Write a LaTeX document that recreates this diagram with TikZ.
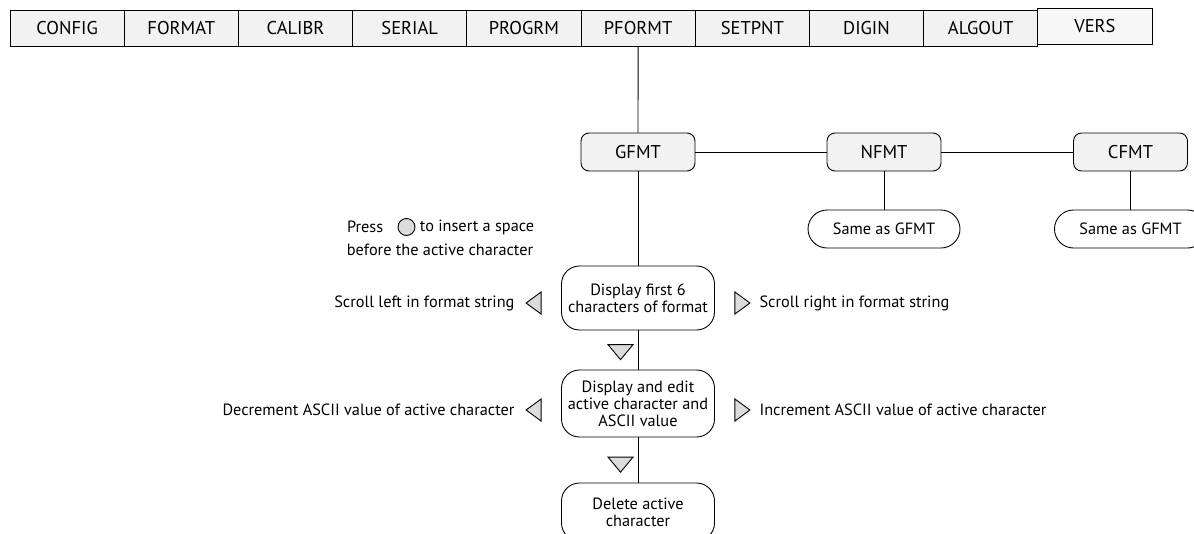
\documentclass[tikz,border=0pt]{standalone}
\usepackage{fontspec}
\setmainfont{PT Sans}
\usetikzlibrary{positioning, shapes.geometric}
\definecolor{boxgray}{HTML}{F2F2F2}
\definecolor{trigray}{HTML}{DCDCDC}
\newcommand{\menuwidth}{114.2pt}
\newcommand{\bodyfont}{\fontsize{16.3}{17}\selectfont}
\tikzset{
    menu/.style={draw, fill=boxgray, minimum width=\menuwidth, minimum height=36pt,
        inner sep=0pt, outer sep=0pt, font=\fontsize{18.5}{20}\selectfont},
    sub/.style={draw, fill=boxgray, rounded corners=8pt, minimum width=114pt,
        minimum height=38pt, font=\fontsize{18.5}{20}\selectfont},
    oval/.style={draw, fill=white, rounded corners=19pt, minimum width=152pt,
        minimum height=38pt, font=\bodyfont},
    stepbox/.style={draw, fill=white, rounded corners=18pt, minimum width=153pt,
        inner sep=0pt, align=center, font=\bodyfont},
    ltri/.style={isosceles triangle, isosceles triangle stretches, shape border rotate=180,
        draw, fill=trigray, minimum width=22pt, minimum height=15pt, inner sep=0pt},
    rtri/.style={ltri, shape border rotate=0},
    dtri/.style={isosceles triangle, isosceles triangle stretches, shape border rotate=270,
        draw, fill=trigray, minimum width=25pt, minimum height=15pt, inner sep=0pt},
    btn/.style={circle, draw, fill=trigray, minimum size=17pt, inner sep=0pt},
    lbl/.style={inner sep=0pt, font=\bodyfont}
}

\begin{document}
\begin{tikzpicture}[x=1pt, y=-1pt, line width=0.9pt]
    \useasboundingbox (0,0) rectangle (1194,533);
    \node[menu] (config) at (67.1,28) {CONFIG};
    \node[menu, right=0pt of config] (format) {FORMAT};
    \node[menu, right=0pt of format] (calibr) {CALIBR};
    \node[menu, right=0pt of calibr] (serial) {SERIAL};
    \node[menu, right=0pt of serial] (progrm) {PROGRM};
    \node[menu, right=0pt of progrm] (pformt) {PFORMT};
    \node[menu, right=0pt of pformt] (setpnt) {SETPNT};
    \node[menu, right=0pt of setpnt] (digin) {DIGIN};
    \node[menu, right=0pt of digin] (algout) {ALGOUT};
    \node[menu, right=0pt of algout, yshift=1.5pt, fill=boxgray!60] (vers) {VERS};

    \node[sub] (gfmt) at (638,152) {GFMT};
    \node[sub] (nfmt) at (884,152) {NFMT};
    \node[sub] (cfmt) at (1130.5,152) {CFMT};
    \node[oval] (nsame) at (884,229) {Same as GFMT};
    \node[oval] (csame) at (1130.5,229) {Same as GFMT};

    \node[btn] (btn) at (406.5,227) {};
    \node[lbl, left=14pt of btn] (press) {Press};
    \node[lbl, right=4pt of btn] (insert) {to insert a space};
    \node[lbl] (before) at (440,250) {before the active character};

    \node[stepbox, minimum height=64pt] (dispfirst) at (638,298) {Display first 6\\characters of format};
    \node[stepbox, minimum height=67pt] (dispedit) at (638,403.5) {Display and edit\\active character and\\ASCII value};
    \node[stepbox, minimum height=58pt] (delchar) at (638,512) {Delete active\\character};

    \node[ltri] (lscroll) at (535.5,303) {};
    \node[rtri] (rscroll) at (740.5,303) {};
    \node[ltri] (ldec) at (535.5,410) {};
    \node[rtri] (rinc) at (740.5,410) {};
    \node[dtri] (dnext) at (620.5,350.5) {};
    \node[dtri] (ddel) at (620.5,463) {};
    \node[lbl, left=10pt of lscroll] (scrollleft) {Scroll left in format string};
    \node[lbl, right=8pt of rscroll] (scrollright) {Scroll right in format string};
    \node[lbl, left=10pt of ldec] (decr) {Decrement ASCII value of active character};
    \node[lbl, right=8pt of rinc] (incr) {Increment ASCII value of active character};

    \draw (pformt) -- (gfmt);
    \draw (gfmt) -- (nfmt);
    \draw (nfmt) -- (cfmt);
    \draw (nfmt) -- (nsame);
    \draw (cfmt) -- (csame);
    \draw (gfmt) -- (dispfirst);
    \draw (dispfirst) -- (dispedit);
    \draw (dispedit) -- (delchar);
\end{tikzpicture}
\end{document}
